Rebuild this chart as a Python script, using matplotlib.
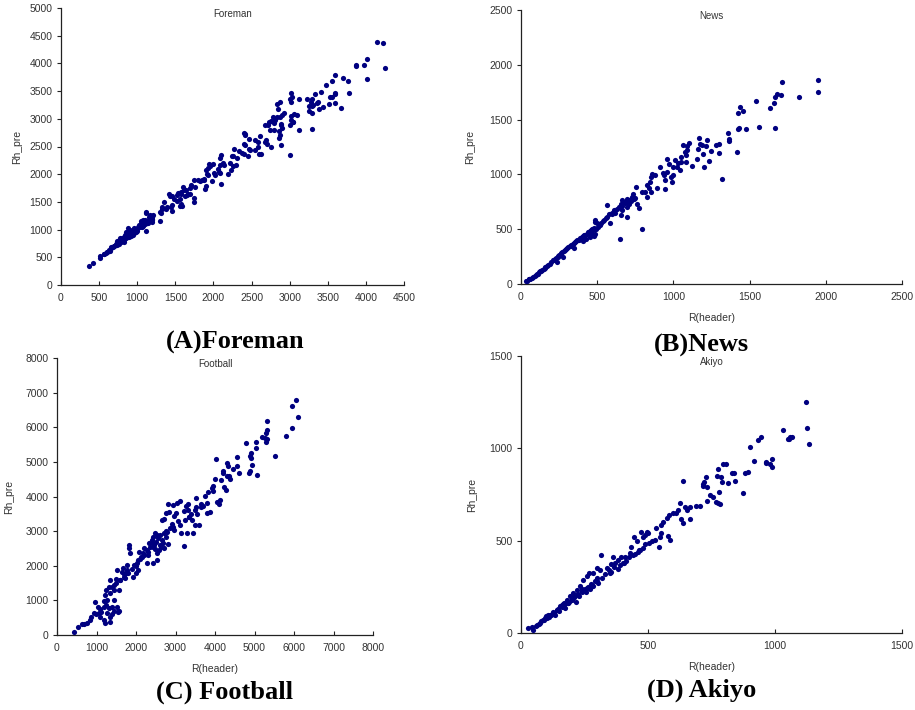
import matplotlib
matplotlib.use("Agg")
from matplotlib import pyplot as plt

# Foreman
foreman_x = [4150, 4220, 4250, 4010, 3980, 4020, 3870, 3870, 3700, 3770, 3780, 3680, 3600, 3560, 3600, 3590,
             3530, 3550, 3520, 3600, 3480, 3410, 3440, 3370, 3360, 3380, 3330, 3290, 3280, 3290, 3300, 3260,
             3230, 3250, 3290, 3290, 3120, 3120, 3090, 3050, 3040, 3020, 3030, 3010, 3020, 3020, 3060, 3020,
             3010, 3000, 2930, 2900, 2890, 2880, 2900, 2870, 2850, 2840, 2870, 2830, 2810, 2860, 2870, 2860,
             2880, 2780, 2790, 2750, 2730, 2720, 2740, 2800, 2670, 2690, 2670, 2700, 2750, 2610, 2580, 2550,
             2550, 2580, 2620, 2600, 2470, 2480, 2460, 2450, 2420, 2400, 2410, 2400, 2420, 2380, 2400, 2330,
             2310, 2270, 2240, 2250, 2220, 2290, 2230, 2250, 2190, 2130, 2140, 2100, 2090, 2080, 2070, 2060,
             2090, 2100, 2020, 2010, 1980, 2000, 1940, 1950, 1930, 1920, 1930, 1900, 1880, 1880, 1900, 1890,
             1850, 1800, 1820, 1760, 1750, 1740, 1740, 1700, 1690, 1690, 1660, 1650, 1640, 1630, 1600, 1620,
             1580, 1570, 1560, 1590, 1580, 1560, 1530, 1520, 1520, 1480, 1450, 1430, 1420, 1450, 1440, 1460,
             1350, 1380, 1390, 1320, 1330, 1310, 1300, 1300, 1210, 1200, 1180, 1170, 1200, 1190, 1120, 1110,
             1150, 1130, 1120, 1100, 1080, 1050, 1050, 1060, 1020, 1010, 1000, 960, 950, 930, 900, 880,
             870, 840, 860, 820, 830, 800, 790, 780, 760, 740, 730, 720, 700, 690, 660, 650,
             630, 610, 590, 570, 510, 510, 420, 370, 850, 870, 900, 920, 940, 980, 990, 1030,
             1060, 1100, 1140, 1170, 1190, 770, 810, 880, 930, 950, 820, 850, 890, 760, 680, 640,
             600, 560, 1000, 1040, 1080, 1150, 1200, 910, 960, 1070, 1130, 800, 740, 970]
foreman_y = [4380, 4370, 3910, 4080, 3970, 3720, 3970, 3950, 3740, 3690, 3470, 3200, 3790, 3680, 3460, 3450,
             3390, 3400, 3270, 3290, 3610, 3490, 3220, 3310, 3290, 3170, 3440, 3350, 3310, 3230, 3250, 3230,
             3350, 3140, 3100, 2810, 3360, 2800, 3070, 2940, 2950, 3470, 3390, 3350, 3300, 3050, 3080, 2970,
             2880, 2340, 3100, 3060, 2880, 2900, 2830, 3310, 3180, 3270, 3040, 3040, 2970, 2780, 2700, 2650,
             2530, 3040, 2930, 2960, 2950, 2890, 2800, 2800, 2880, 2610, 2590, 2540, 2490, 2690, 2580, 2620,
             2430, 2500, 2370, 2370, 2630, 2430, 2460, 2330, 2700, 2750, 2730, 2540, 2520, 2380, 2370, 2410,
             2290, 2460, 2330, 2320, 2210, 2170, 2080, 2150, 2000, 2200, 2160, 2350, 2300, 2160, 2040, 2100,
             2020, 1820, 1990, 2020, 1880, 2180, 2180, 2150, 2110, 2010, 1980, 2070, 1890, 1910, 1780, 1740,
             1900, 1890, 1870, 1770, 1890, 1570, 1490, 1800, 1750, 1640, 1650, 1620, 1720, 1600, 1770, 1710,
             1680, 1640, 1560, 1420, 1460, 1430, 1660, 1630, 1510, 1560, 1600, 1610, 1640, 1450, 1400, 1340,
             1500, 1370, 1410, 1370, 1400, 1300, 1320, 1160, 1270, 1240, 1200, 1270, 1170, 1130, 1300, 1310,
             1230, 1150, 970, 1180, 1170, 1160, 1120, 1080, 1090, 1040, 1010, 1020, 990, 1000, 970, 1020,
             930, 900, 880, 860, 810, 800, 780, 850, 780, 760, 790, 740, 700, 710, 690, 660,
             640, 600, 580, 560, 520, 490, 390, 350, 950, 870, 900, 880, 930, 950, 1000, 1040,
             1040, 1100, 1120, 1150, 1220, 800, 830, 950, 950, 900, 780, 840, 860, 740, 680, 620,
             590, 560, 980, 1060, 1080, 1180, 1200, 920, 930, 1060, 1120, 840, 730, 960]

# News
news_x = [1948, 1948, 1710, 1824, 1705, 1679, 1664, 1657, 1631, 1539, 1559, 1664, 1478, 1423, 1429, 1438,
          1456, 1423, 1416, 1356, 1365, 1365, 1318, 1296, 1279, 1296, 1246, 1233, 1222, 1213, 1204, 1185,
          1176, 1167, 1163, 1193, 1158, 1121, 1101, 1092, 1088, 1083, 1074, 1066, 1081, 1053, 1053, 1033,
          1011, 1022, 1044, 996, 974, 1000, 983, 961, 957, 940, 913, 930, 943, 989, 878, 860, 852, 847,
          830, 839, 891, 943, 854, 816, 825, 795, 755, 738, 726, 711, 707, 698, 694, 792, 777, 764,
          751, 733, 694, 683, 661, 657, 650, 666, 653, 650, 628, 613, 598, 567, 578, 563, 587, 545,
          523, 518, 508, 486, 484, 479, 475, 464, 453,
          30, 40, 50, 55, 60, 70, 80, 90, 100, 105, 110, 120, 125, 130, 140, 150,
          155, 160, 170, 180, 190, 200, 210, 215, 220, 230, 240, 245, 250, 260, 265, 270,
          280, 290, 295, 300, 310, 320, 325, 330, 340, 350, 355, 360, 370, 380, 385, 390,
          400, 410, 415, 420, 430, 440, 445, 450, 460, 470, 480, 490, 235, 275, 345, 405,
          425, 455, 470, 485, 500, 520, 540, 560, 600, 620, 640, 660, 680, 700, 720, 740]
news_y = [1861, 1749, 1840, 1709, 1721, 1734, 1709, 1655, 1609, 1667, 1429, 1420, 1414, 1417, 1423, 1612,
          1575, 1557, 1204, 1375, 1320, 1302, 961, 1277, 1271, 1198, 1217, 1119, 1317, 1262, 1068, 1271,
          1280, 1332, 1232, 1186, 1137, 1077, 1283, 1259, 1223, 1174, 1204, 1265, 1116, 1162, 1110, 1101,
          1131, 1070, 1040, 1070, 1092, 995, 979, 1137, 1025, 995, 1070, 1010, 949, 934, 995, 1004, 973, 934,
          903, 879, 873, 864, 836, 836, 797, 842, 882, 818, 797, 766, 730, 705, 614, 505, 690, 730,
          782, 782, 779, 751, 766, 730, 703, 678, 630, 413, 684, 675, 651, 724, 639, 614, 560, 584,
          560, 535, 517, 584, 569, 438, 493, 505, 462,
          28, 30, 42, 45, 50, 55, 65, 70, 80, 90, 95, 105, 115, 120, 130, 140,
          150, 155, 165, 175, 185, 200, 215, 220, 230, 240, 250, 260, 265, 275, 280, 290,
          300, 310, 315, 325, 335, 345, 350, 360, 365, 375, 380, 390, 400, 405, 415, 420,
          430, 440, 445, 450, 460, 470, 475, 480, 490, 500, 510, 505, 200, 245, 330, 395,
          410, 430, 445, 460, 560, 545, 575, 600, 640, 650, 700, 715, 740, 760, 760, 780]

# Football
football_x = [6063, 5945, 6105, 5945, 5810, 5507, 5322, 5305, 5280, 5263, 5322, 5280, 5179, 5036, 5027, 5053,
              4901, 4884, 4909, 4926, 4884, 4867, 4783, 4606, 4547, 4547, 4463, 4379, 4362, 4312, 4328, 4295,
              4211, 4194, 4143, 4278, 4227, 4126, 4093, 4059, 4025, 4000, 3958, 3958, 3924, 3832, 3747, 3874,
              3790, 3705, 3638, 3520, 3520, 3554, 3604, 3486, 3453, 3419, 3352, 3326, 3267, 3309, 3225, 3251,
              3284, 3116, 3032, 2948, 3006, 2973, 3057, 3116, 3141, 3225, 2948, 2964, 2821, 2838, 2762, 2720,
              2669, 2779, 2753, 2821, 2678, 2720, 2627, 2594, 2526, 2484, 2442, 2400, 2341, 2425, 2476, 2526,
              2543, 2442, 2290, 2274, 2206, 2173, 2122, 2088, 2063, 2021, 2063, 2004, 1937, 1920, 1836, 1819,
              1811, 1768, 1768, 1752, 1726, 1684, 1642, 1668, 1600, 1574, 1516, 1491, 1432, 1448, 1398, 1347,
              1330, 1305, 1246, 1221, 1263, 1196, 1246, 1179, 1305, 1389, 1432, 1347, 1398, 1516, 1533, 1575,
              1432, 1221, 1347, 1095, 1027, 968, 1053, 994, 926, 859, 825, 758, 690, 522, 421, 623,
              1095, 1179, 1111, 1263, 2500, 2550, 2600, 2650, 2350, 2300, 2200, 2150, 2100, 2450, 2700, 2750,
              2850, 2900, 2400, 2600, 2300, 2000, 1900, 1800, 1700, 1600, 1500, 3400, 3500, 3650, 3800, 3350]
football_y = [6795, 6622, 6294, 5976, 5754, 5176, 6178, 5908, 5831, 5687, 5658, 5561, 5706, 5561, 5398, 4617,
              5253, 5176, 5099, 4896, 4723, 4675, 5542, 4675, 5137, 4887, 4790, 4501, 4578, 4964, 4867, 4598,
              4675, 4723, 4463, 4193, 4260, 3904, 3788, 3855, 5080, 4501, 4289, 4145, 4241, 4116, 4019, 3566,
              3518, 3740, 3788, 3952, 3711, 3499, 3171, 3180, 2959, 3325, 3422, 3614, 3730, 3778, 3595, 3325,
              2959, 3875, 3826, 3759, 3518, 3441, 3306, 3180, 2940, 2573, 3132, 3036, 3788, 3566, 3518, 3345,
              3325, 2988, 2843, 2631, 2670, 2506, 2535, 2458, 2891, 2940, 2824, 2747, 2650, 2554, 2477, 2361,
              2169, 2092, 2072, 2458, 2506, 2361, 2265, 2400, 2169, 2092, 1880, 1783, 2024, 1687, 2361, 2506,
              2602, 2024, 1880, 1783, 1639, 1687, 1831, 1928, 1591, 1301, 1880, 1610, 1446, 1301, 1378, 1205,
              1591, 1398, 1301, 1157, 1012, 993, 867, 819, 771, 819, 703, 530, 607, 819, 675, 684,
              1012, 337, 385, 742, 819, 954, 626, 607, 646, 530, 434, 357, 318, 222, 87, 318,
              530, 434, 675, 626, 2700, 2800, 2900, 2750, 2550, 2400, 2300, 2250, 2200, 2600, 2950, 3000,
              3100, 3200, 2650, 2600, 2300, 2000, 1900, 1800, 1750, 1600, 1500, 3500, 3600, 3700, 3800, 3400]

# Akiyo
akiyo_x = [1124, 1126, 1133, 1032, 1055, 1059, 1068, 1052, 944, 934, 902, 916, 989, 989, 979, 966,
           963, 895, 882, 873, 840, 830, 843, 814, 806, 796, 776, 770, 788, 792, 780, 785,
           730, 733, 717, 715, 721, 637, 733, 743, 757, 767, 774, 704, 690, 665, 652, 645,
           625, 629, 638, 665, 619, 610, 599, 583, 573, 560, 553, 547, 586, 579, 553, 543,
           532, 527, 501, 495, 488, 479, 472, 466, 455, 445, 428, 435, 411, 404, 392, 383,
           362, 372, 356, 350, 340, 316, 311, 298, 285, 282, 267, 258, 245, 232, 219, 206,
           193, 180, 166, 153, 140, 127, 114, 101, 88, 75, 62, 42, 28, 46,
           60, 70, 80, 95, 105, 110, 120, 130, 135, 145, 150, 160, 170, 175, 185, 190,
           200, 210, 215, 225, 230, 240, 250, 255, 265, 270, 275, 290, 300, 305, 320, 330,
           345, 355, 365, 380, 390, 400, 415, 425, 440, 450, 460, 470, 480, 490, 505, 515,
           100, 115, 140, 160, 185, 200, 220, 240, 260, 280, 300, 240, 210, 170, 125, 90]
akiyo_y = [1253, 1109, 1021, 1097, 1050, 1062, 1062, 1053, 1064, 1044, 1007, 931, 940, 900, 915, 922,
           924, 872, 865, 756, 865, 865, 823, 814, 915, 915, 890, 852, 843, 818, 764, 699,
           847, 792, 806, 797, 815, 821, 713, 746, 738, 711, 706, 690, 690, 681, 666, 684,
           706, 616, 594, 618, 666, 652, 648, 639, 625, 601, 585, 519, 501, 523, 540, 468,
           569, 504, 540, 549, 531, 522, 549, 450, 499, 522, 432, 468, 414, 378, 410, 396,
           409, 378, 375, 324, 351, 421, 342, 351, 324, 252, 324, 306, 288, 252, 234, 216,
           198, 180, 158, 144, 122, 108, 99, 81, 72, 54, 43, 32, 27, 14,
           40, 50, 65, 80, 95, 85, 100, 110, 100, 130, 120, 140, 150, 135, 160, 170,
           180, 195, 170, 210, 200, 225, 240, 220, 250, 240, 265, 280, 300, 270, 300, 320,
           340, 330, 355, 345, 370, 380, 390, 410, 420, 430, 440, 450, 460, 480, 490, 500,
           90, 100, 125, 150, 165, 185, 205, 220, 245, 260, 280, 240, 195, 165, 115, 70]

panels = [
    # x, y, title, label, xmax, xstep, ymax, ystep, axes box (px), label pos (px), ylabel offset, xlabel
    (foreman_x, foreman_y, 'Foreman', '(A)Foreman', 4500, 500, 5000, 500,
     [61, 8, 404, 285], (235, 342), 39, False),
    (news_x, news_y, 'News', '(B)News', 2500, 500, 2500, 500,
     [521, 10, 902, 284], (701, 345), 46, True),
    (football_x, football_y, 'Football', '(C) Football', 8000, 1000, 8000, 1000,
     [57, 358, 373, 635], (224, 692), 43, True),
    (akiyo_x, akiyo_y, 'Akiyo', '(D) Akiyo', 1500, 500, 1500, 500,
     [521, 356, 902, 633], (702, 690), 44, True),
]

W, H = 915, 710
fig = plt.figure(figsize=(W / 100, H / 100), dpi=100)
tick_font = 'Liberation Sans'
grey = '#333333'

for x, y, title, label, xmax, xstep, ymax, ystep, (l, t, r, b), (lx, ly), yoff, xl in panels:
    w, h = r - l, b - t
    ax = fig.add_axes([l / W, 1 - b / H, w / W, h / H])
    ax.scatter(x, y, s=14, color='#000080', linewidths=0, zorder=3)
    ax.set_xlim(0, xmax)
    ax.set_ylim(0, ymax)
    ax.set_xticks(range(0, xmax + 1, xstep))
    ax.set_yticks(range(0, ymax + 1, ystep))
    for s in ['top', 'right']:
        ax.spines[s].set_visible(False)
    for s in ['left', 'bottom']:
        ax.spines[s].set_color('#222222')
        ax.spines[s].set_linewidth(0.9)
    ax.tick_params(axis='x', direction='in', length=3, pad=6, labelsize=7.5,
                   labelcolor=grey, color='#222222')
    ax.tick_params(axis='y', direction='out', length=3, pad=3, labelsize=7.5,
                   labelcolor=grey, color='#222222')
    for lab in ax.get_xticklabels() + ax.get_yticklabels():
        lab.set_fontfamily(tick_font)
    ax.set_ylabel('Rh_pre', fontsize=7.5, color=grey, family=tick_font)
    ax.yaxis.set_label_coords(-yoff / w, 0.5)
    if xl:
        ax.set_xlabel('R(header)', fontsize=7.5, color=grey, family=tick_font)
        ax.xaxis.set_label_coords(0.5, -29 / h)
    ax.text(0.5, 1 - 6 / h, title, transform=ax.transAxes, ha='center', va='center',
            fontsize=7, color=grey, family=tick_font)
    fig.text(lx / W, 1 - ly / H, label, ha='center', va='center',
             fontsize=19, fontweight='bold', family='Liberation Serif')

fig.savefig('out.png', dpi=100)
